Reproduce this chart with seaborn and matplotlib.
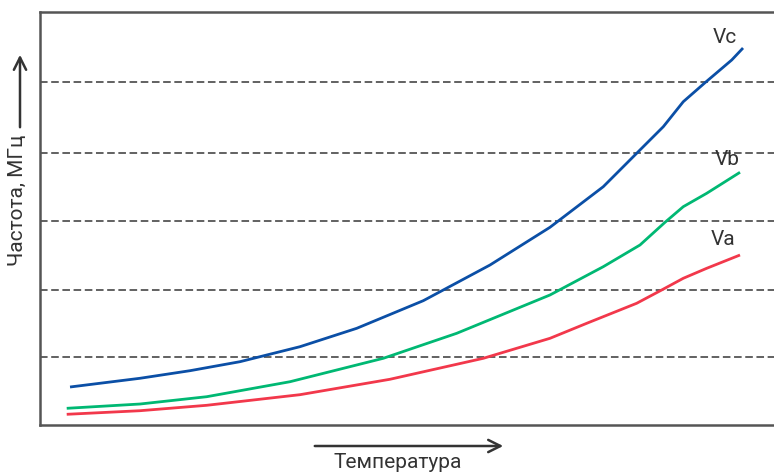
import numpy as np
import pandas as pd
import seaborn as sns
import matplotlib.pyplot as plt

# values (axis units 0..100, no scale shown)
vc_x = [4.09, 13.62, 20.44, 27.25, 35.42, 43.15, 52.22, 61.31, 69.48, 76.74,
        81.29, 84.92, 87.64, 90.60, 94.24, 95.78]
vc_y = [9.20, 11.31, 13.15, 15.33, 18.96, 23.41, 30.10, 38.74, 47.87, 57.70,
        65.79, 72.23, 78.28, 82.88, 88.38, 91.28]

vb_x = [3.64, 13.62, 22.71, 34.06, 46.77, 56.77, 69.48, 76.74, 81.74, 85.15,
        87.64, 90.83, 95.37]
vb_y = [4.04, 5.08, 6.85, 10.48, 16.15, 22.20, 31.48, 38.33, 43.58, 49.08,
        52.86, 56.10, 61.19]

va_x = [3.64, 13.62, 22.71, 35.42, 47.68, 60.40, 69.48, 74.48, 81.29, 84.70,
        87.64, 90.83, 95.37]
va_y = [2.59, 3.46, 4.77, 7.34, 11.07, 16.15, 20.99, 24.62, 29.47, 32.69,
        35.52, 37.94, 41.16]

grid_levels = [16.5, 32.7, 49.4, 65.9, 83.1]
series_names = ['Vc', 'Vb', 'Va']
colors = {'Vc': '#0b4fa6', 'Vb': '#00b873', 'Va': '#f2384b'}

df = pd.concat([
    pd.DataFrame({'x': vc_x, 'y': vc_y, 'name': 'Vc'}),
    pd.DataFrame({'x': vb_x, 'y': vb_y, 'name': 'Vb'}),
    pd.DataFrame({'x': va_x, 'y': va_y, 'name': 'Va'}),
])

sns.set_theme(style='white')
plt.rcParams['font.family'] = ['Roboto', 'DejaVu Sans']

fig = plt.figure(figsize=(7.74, 4.75), dpi=100)
ax = fig.add_axes([40 / 774, 50 / 475, 734 / 774, 413 / 475])

# dashed reference levels
for lv in grid_levels:
    ax.axhline(lv, color='#555555', lw=1.3, ls=(0, (4.2, 2.0)), zorder=1)

sns.lineplot(data=df, x='x', y='y', hue='name', palette=colors, sort=False,
             estimator=None, lw=2.0, legend=False, ax=ax, zorder=3)
for ln in ax.get_lines()[len(grid_levels):]:
    ln.set_solid_joinstyle('round')
    ln.set_solid_capstyle('butt')

ax.set_xlim(0, 100)
ax.set_ylim(0, 100)
ax.set_xticks([])
ax.set_yticks([])
ax.set_xlabel('')
ax.set_ylabel('')
for side in ['left', 'top', 'bottom']:
    ax.spines[side].set_color('#555555')
    ax.spines[side].set_linewidth(1.8)
ax.spines['right'].set_visible(False)

# curve labels
lab_pos = {'Vc': (93.3, 93.9), 'Vb': (93.6, 64.2), 'Va': (93.1, 44.8)}
for name in series_names:
    ax.text(*lab_pos[name], name, fontsize=15, color='#333333',
            ha='center', va='center')

# axis arrows and titles
arrow = dict(arrowstyle='->', color='#333333', lw=1.8, mutation_scale=22)
fig.add_artist(plt.Annotation('', xy=(20 / 774, 1 - 52 / 475), xytext=(20 / 774, 1 - 130 / 475),
                              xycoords='figure fraction', textcoords='figure fraction',
                              arrowprops=arrow))
fig.add_artist(plt.Annotation('', xy=(506 / 774, 1 - 446 / 475), xytext=(312 / 774, 1 - 446 / 475),
                              xycoords='figure fraction', textcoords='figure fraction',
                              arrowprops=arrow))
fig.text(17 / 774, 1 - 200 / 475, 'Частота, МГц', rotation=90, fontsize=15,
         color='#333333', ha='center', va='center')
fig.text(398 / 774, 1 - 463 / 475, 'Температура', fontsize=15,
         color='#333333', ha='center', va='center')

fig.savefig('out.png', dpi=100)
